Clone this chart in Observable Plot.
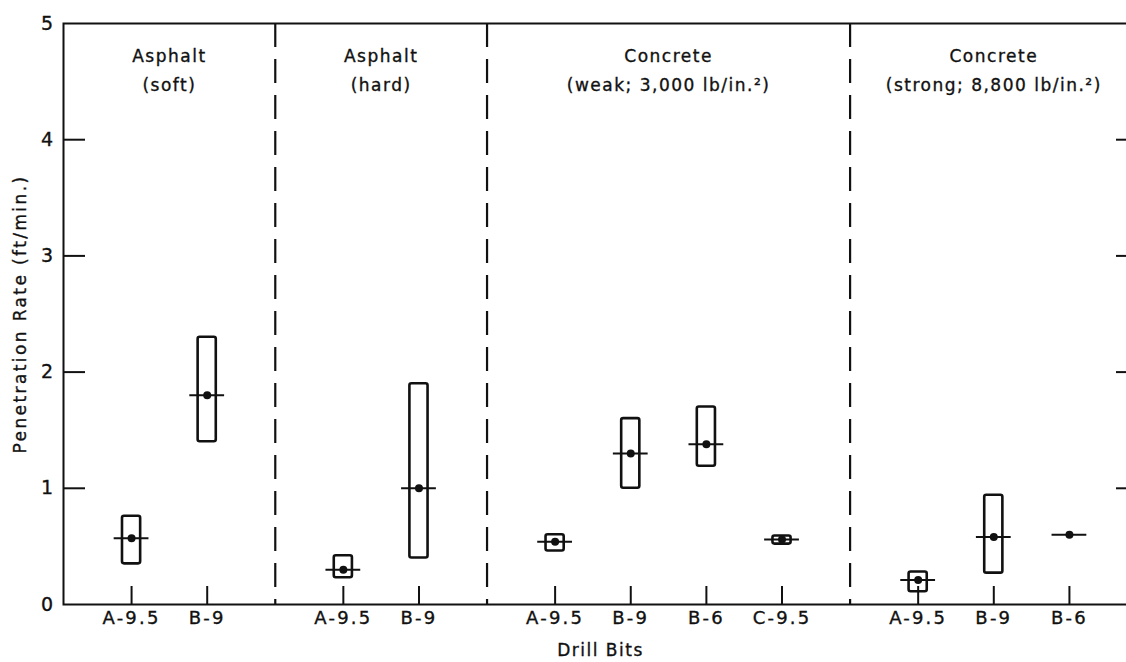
<!DOCTYPE html>
<html>
<head>
<meta charset="utf-8">
<script src="https://cdn.jsdelivr.net/npm/d3@7"></script>
<script src="https://cdn.jsdelivr.net/npm/@observablehq/plot@0.6"></script>
<style>
  html, body { margin: 0; padding: 0; background: #fff; overflow: hidden; }
  #chart svg { display: block; overflow: hidden; }
  #chart svg text { letter-spacing: 1.5px; stroke: #111; stroke-width: 0.35px; }
  #chart svg .xlab text { letter-spacing: 2.2px; }
  #chart svg .ylab text { letter-spacing: 2.4px; }
</style>
</head>
<body>
<div id="chart"></div>
<script>
// ---- data ----
const groupTitle = ["Asphalt", "Asphalt", "Concrete", "Concrete"];
const groupSub = ["(soft)", "(hard)", "(weak; 3,000 lb/in.²)", "(strong; 8,800 lb/in.²)"];
const bitGroup = [0, 0, 1, 1, 2, 2, 2, 2, 3, 3, 3];
const bitName = ["A-9.5", "B-9", "A-9.5", "B-9", "A-9.5", "B-9", "B-6", "C-9.5", "A-9.5", "B-9", "B-6"];
const rateLow  = [0.35, 1.40, 0.23, 0.40, 0.46, 1.00, 1.19, 0.52, 0.11, 0.27, null];
const rateHigh = [0.76, 2.30, 0.42, 1.90, 0.60, 1.60, 1.70, 0.59, 0.28, 0.94, null];
const rateMid  = [0.57, 1.80, 0.30, 1.00, 0.54, 1.30, 1.38, 0.56, 0.21, 0.58, 0.60];
const yTicks = [0, 1, 2, 3, 4, 5];
const yLabel = "Penetration Rate (ft/min.)";
const xLabel = "Drill Bits";

// ---- layout of the categorical slots on a linear x scale ----
const GAP = 0.9;
let cursor = 0;
const pos = [];
const groupStart = [], groupEnd = [];
groupTitle.forEach((_, g) => {
  groupStart.push(cursor);
  const idx = bitGroup.map((gg, i) => (gg === g ? i : -1)).filter(i => i >= 0);
  idx.forEach((i, j) => { pos[i] = cursor + GAP + j; });
  cursor += 2 * GAP + idx.length - 1;
  groupEnd.push(cursor);
});
const total = cursor;

const bits = bitName.map((name, i) => ({name, pos: pos[i], lo: rateLow[i], hi: rateHigh[i], mid: rateMid[i]}));
const boxes = bits.filter(b => b.lo != null && b.hi != null);
const groups = groupTitle.map((t, g) => ({title: t, sub: groupSub[g], center: (groupStart[g] + groupEnd[g]) / 2}));
const dividers = groupEnd.slice(0, -1);
const labelAt = new Map(bits.map(b => [b.pos, b.name]));

const ink = "#111";
const chart = Plot.plot({
  width: 1126,
  height: 662,
  marginLeft: 63,
  marginRight: -11,
  marginTop: 23,
  marginBottom: 58,
  style: {fontFamily: "'DejaVu Sans', sans-serif", fontSize: "17px", color: ink, background: "#fff", overflow: "hidden"},
  x: {domain: [0, total], axis: null},
  y: {domain: [0, 5], axis: null},
  marks: [
    Plot.frame({stroke: ink, strokeWidth: 2}),
    Plot.ruleX(dividers, {stroke: ink, strokeWidth: 2.2, strokeDasharray: "24,12"}),
    // inward tick marks
    Plot.axisY({ticks: [1, 2, 3, 4], tickSize: -22, tickFormat: () => "", strokeWidth: 2, label: null}),
    Plot.axisY({anchor: "right", ticks: [1, 2, 3, 4], tickSize: -22, tickFormat: () => "", strokeWidth: 2, label: null}),
    Plot.axisX({ticks: pos, tickSize: -18, tickFormat: () => "", strokeWidth: 2, label: null}),
    // tick labels
    Plot.axisY({ticks: yTicks, tickSize: 0, tickPadding: 9, fontSize: 19, tickFormat: d3.format("d"), label: null}),
    Plot.axisX({ticks: pos, tickSize: 0, tickPadding: 7, fontSize: 18, tickFormat: d => labelAt.get(d), label: null, className: "xlab"}),
    // axis titles
    Plot.text([yLabel], {frameAnchor: "left", textAnchor: "middle", lineAnchor: "middle", dx: -43, rotate: -90, fontSize: 17, className: "ylab"}),
    Plot.text([xLabel], {frameAnchor: "bottom", lineAnchor: "middle", dy: 46, fontSize: 17}),
    // panel titles
    Plot.text(groups, {x: "center", text: "title", frameAnchor: "top", lineAnchor: "middle", dy: 33, fontSize: 17}),
    Plot.text(groups, {x: "center", text: "sub", frameAnchor: "top", lineAnchor: "middle", dy: 62, fontSize: 17}),
    // data
    Plot.rect(boxes, {x1: b => b.pos - 0.12, x2: b => b.pos + 0.12, y1: "lo", y2: "hi", fill: "none", stroke: ink, strokeWidth: 2.6, rx: 2}),
    Plot.ruleY(bits, {x1: b => b.pos - 0.23, x2: b => b.pos + 0.23, y: "mid", stroke: ink, strokeWidth: 2}),
    Plot.dot(bits, {x: "pos", y: "mid", r: 4, fill: ink, stroke: null})
  ]
});
document.getElementById("chart").appendChild(chart);
</script>
</body>
</html>
